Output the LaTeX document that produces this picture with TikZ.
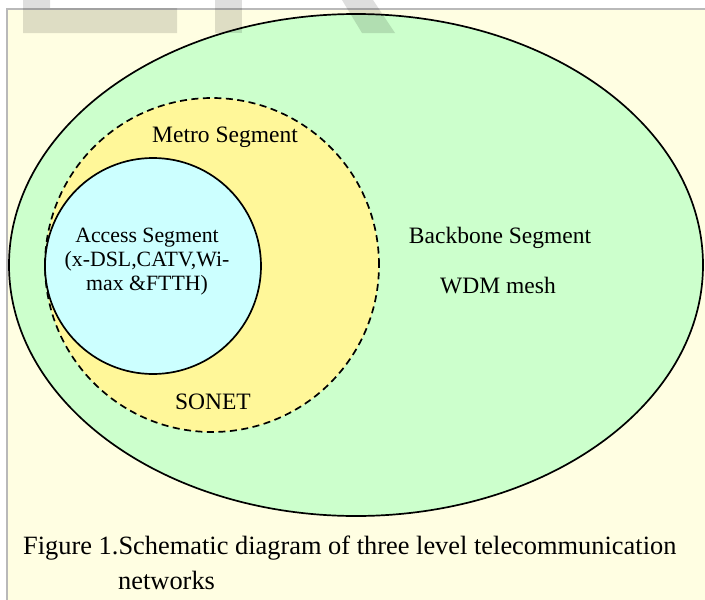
\documentclass[tikz,border=0pt]{standalone}
\usepackage{fontspec}
\setmainfont{Liberation Serif}
\usetikzlibrary{shapes.geometric}
\definecolor{paper}{HTML}{FFFEE2}
\definecolor{backbone}{HTML}{CCFFCC}
\definecolor{metro}{HTML}{FFF799}
\definecolor{access}{HTML}{CCFFFF}
\tikzset{
  % one network level, drawn as a closed region
  segment/.style={draw=black, inner sep=0pt, line width=1.7pt},
  segment label/.style={font=\fontsize{21.8}{24}\selectfont, align=center, inner sep=0pt},
  big label/.style={font=\fontsize{23.5}{28}\selectfont, inner sep=0pt},
  caption text/.style={font=\fontsize{26.4}{32}\selectfont, anchor=west, inner sep=0pt},
  watermark/.style={fill=black, opacity=0.13},
}

\begin{document}
\begin{tikzpicture}[x=1pt, y=-1pt]
  \useasboundingbox (0,0) rectangle (705,600);
  \fill[white] (0,0) rectangle (705,600);

  % page panel the figure sits on
  \fill[paper] (7,9) rectangle (705,600);
  \draw[gray!55, line width=1.5pt] (7,600) -- (7,9) -- (705,9);

  % the three segments, outer to inner
  \node [segment, ellipse, fill=backbone, minimum width=694pt, minimum height=502pt] at (356,265) (backbone) {};
  \node [segment, circle, fill=metro, dash pattern=on 7pt off 4.5pt, minimum size=334pt] at (212,265) (metro) {};
  \node [segment, circle, fill=access, minimum size=216pt] at (153,266) (access) {};

  \node [big label] at (225,137) (metroname) {Metro Segment};
  \node [big label] at (213,402) (sonet) {SONET};
  \node [segment label] at (147,262) (accessname) {Access Segment\\(x-DSL,CATV,Wi-\\max \&FTTH)};
  \node [big label] at (500,238) (backbonename) {Backbone Segment};
  \node [big label] at (498,286) (wdm) {WDM mesh};

  % caption
  \node [caption text] at (23,548) (caption) {Figure 1.Schematic diagram of three level telecommunication};
  \node [caption text] at (118,580) (caption2) {networks};

  % watermark left over at the top edge
  \fill[watermark] (23,0) rectangle (50,8) (23,8) rectangle (177,33);
  \fill[watermark] (215,0) rectangle (242,33);
  \fill[watermark] (342,0) -- (373,0) -- (395,33) -- (362,33) -- cycle;
\end{tikzpicture}
\end{document}
